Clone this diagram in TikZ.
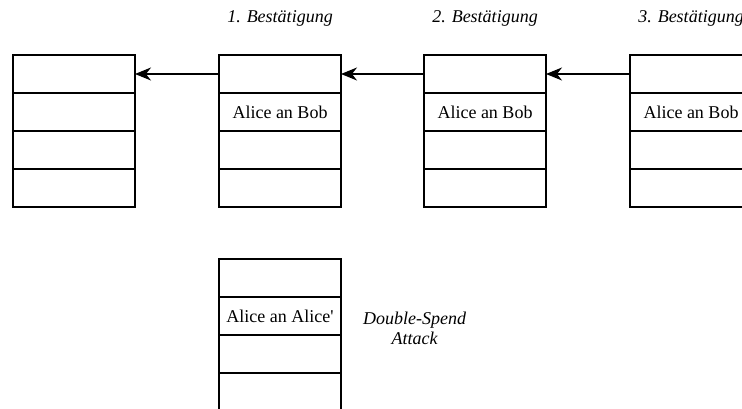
\documentclass[tikz,border=0pt]{standalone}
\usepackage{fontspec}
\setmainfont{Liberation Serif}
\usetikzlibrary{positioning}
\usetikzlibrary{arrows.meta}

\tikzset{
  cell/.style={draw, line width=1.3pt, minimum width=122pt, minimum height=38pt,
    inner sep=0pt, outer sep=0pt, font=\fontsize{18}{20}\selectfont},
  conf/.style={inner sep=0pt, font=\fontsize{18}{20}\selectfont\itshape},
  link/.style={line width=1.3pt, -{Stealth[length=16pt,width=13pt,inset=5pt]}}
}

\begin{document}
\begin{tikzpicture}[x=1pt,y=-1pt]
\useasboundingbox (0,0) rectangle (742,409);
\clip (0,0) rectangle (742,409);

\foreach \n/\x/\y/\t in {a/13/55/{}, b/219/55/Alice an Bob, c/424/55/Alice an Bob,
    d/630/55/Alice an Bob, e/219/259/Alice an Alice\textquotesingle} {
  \node[cell, anchor=north west] (\n1) at (\x,\y) {};
  \node[cell, below=0pt of \n1] (\n2) {\t};
  \node[cell, below=0pt of \n2] (\n3) {};
  \node[cell, below=0pt of \n3] (\n4) {};
}

\draw[link] (b1.west) -- (a1.east);
\draw[link] (c1.west) -- (b1.east);
\draw[link] (d1.west) -- (c1.east);

\node[conf] (conf1) at ([yshift=37pt]b1.north) {1. Bestätigung};
\node[conf] (conf2) at ([yshift=37pt]c1.north) {2. Bestätigung};
\node[conf] (conf3) at ([yshift=37pt]d1.north) {3. Bestätigung};

\node[conf, align=center, anchor=west] (attack) at ([xshift=22pt,yshift=-12.5pt]e2.east) {Double-Spend\\Attack};
\end{tikzpicture}
\end{document}
